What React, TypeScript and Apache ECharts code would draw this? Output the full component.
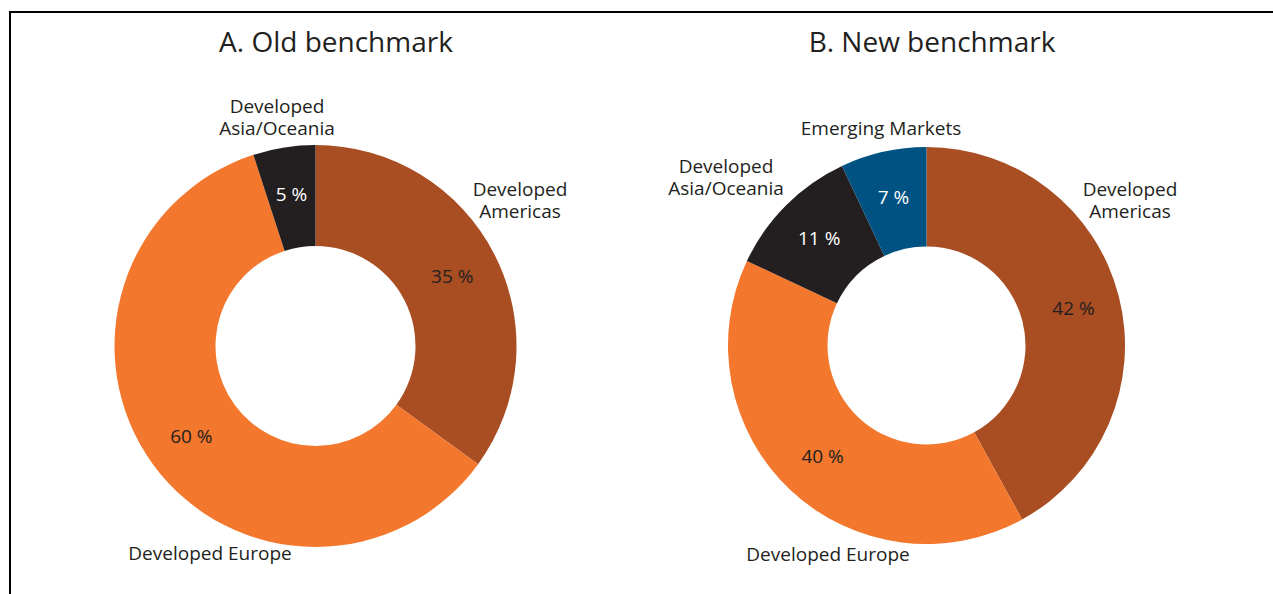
import React, { useEffect, useRef } from "react";
import * as echarts from "echarts";

// ---- Data ----
const oldCategories = ["Developed Americas", "Developed Europe", "Developed Asia/Oceania"];
const oldValues = [35, 60, 5];
const oldColors = ["#A94D22", "#F3772C", "#231F20"];
const oldLabelNames = ["Developed\nAmericas", "Developed Europe", "Developed\nAsia/Oceania"];
const oldPctColors = ["#231F20", "#231F20", "#FFFFFF"];

const newCategories = ["Developed Americas", "Developed Europe", "Developed Asia/Oceania", "Emerging Markets"];
const newValues = [42, 40, 11, 7];
const newColors = ["#A94D22", "#F3772C", "#231F20", "#005283"];
const newLabelNames = ["Developed\nAmericas", "Developed Europe", "Developed\nAsia/Oceania", "Emerging Markets"];
const newPctColors = ["#231F20", "#231F20", "#FFFFFF", "#FFFFFF"];

const titles = ["A. Old benchmark", "B. New benchmark"];

// ---- Layout (positions of name labels, block centres) ----
const oldNamePos: [number, number][] = [[520, 200], [210, 553], [277, 117]];
const newNamePos: [number, number][] = [[1130, 200], [828, 554], [726, 177], [881, 128]];

const FONT = "'Open Sans', 'Noto Sans', sans-serif";
const TEXT = "#231F20";

function pctSeries(cats: string[], vals: number[], colors: string[], pctColors: string[], center: number[], radius: number[]) {
  return {
    type: "pie",
    center,
    radius,
    startAngle: 90,
    clockwise: true,
    avoidLabelOverlap: false,
    silent: true,
    label: {
      show: true,
      position: "inside",
      formatter: "{c} %",
      fontFamily: FONT,
      fontSize: 19,
    },
    labelLine: { show: false },
    itemStyle: { borderWidth: 0 },
    data: cats.map((c, i) => ({
      name: c,
      value: vals[i],
      itemStyle: { color: colors[i] },
      label: { color: pctColors[i] },
    })),
  };
}

function nameSeries(cats: string[], vals: number[], names: string[], pos: [number, number][], center: number[], radius: number[]) {
  return {
    type: "pie",
    center,
    radius,
    startAngle: 90,
    clockwise: true,
    avoidLabelOverlap: false,
    silent: true,
    itemStyle: { color: "rgba(0,0,0,0)", borderWidth: 0 },
    label: {
      show: true,
      position: "outside",
      fontFamily: FONT,
      fontSize: 19,
      lineHeight: 22,
      color: TEXT,
      align: "center",
    },
    labelLine: { show: false },
    labelLayout: (p: any) => ({
      x: pos[p.dataIndex][0],
      y: pos[p.dataIndex][1],
      align: "center",
      verticalAlign: "middle",
    }),
    data: cats.map((c, i) => ({
      name: c,
      value: vals[i],
      label: { formatter: names[i] },
    })),
  };
}

export default function App() {
  const ref = useRef<HTMLDivElement>(null);
  useEffect(() => {
    document.body.style.margin = "0";
    if (!ref.current) return;
    const chart = echarts.init(ref.current, null, { renderer: "svg" });
    chart.setOption({
      animation: false,
      backgroundColor: "#FFFFFF",
      title: [
        {
          text: titles[0],
          left: 331,
          top: 22,
          textAlign: "center",
          textStyle: { fontFamily: FONT, fontSize: 28, fontWeight: "normal", color: TEXT },
        },
        {
          text: titles[1],
          left: 927,
          top: 22,
          textAlign: "center",
          textStyle: { fontFamily: FONT, fontSize: 28, fontWeight: "normal", color: TEXT },
        },
      ],
      graphic: [
        {
          type: "rect",
          silent: true,
          shape: { x: 10, y: 12, width: 1400, height: 800 },
          style: { fill: "none", stroke: "#000000", lineWidth: 2 },
        },
      ],
      series: [
        pctSeries(oldCategories, oldValues, oldColors, oldPctColors, [315.5, 346], [100, 201]),
        pctSeries(newCategories, newValues, newColors, newPctColors, [926.5, 345.5], [99, 198.5]),
        nameSeries(oldCategories, oldValues, oldLabelNames, oldNamePos, [315.5, 346], [100, 201]),
        nameSeries(newCategories, newValues, newLabelNames, newNamePos, [926.5, 345.5], [99, 198.5]),
      ],
    });
    return () => chart.dispose();
  }, []);
  return <div ref={ref} style={{ width: 1273, height: 594 }} />;
}
